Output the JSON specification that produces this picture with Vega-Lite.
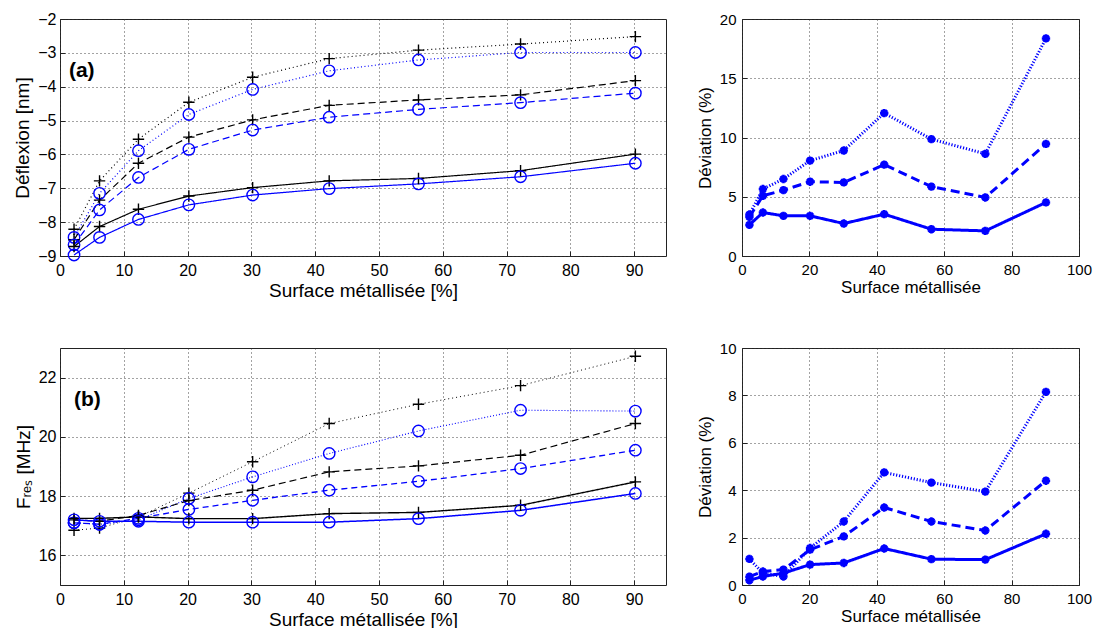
{
  "$schema": "https://vega.github.io/schema/vega-lite/v6.json",
  "background": "white",
  "padding": {"left": 13, "top": 10, "right": 0, "bottom": 0},
  "columns": 2,
  "spacing": {"row": 92, "column": 76},
  "bounds": "flush",
  "align": "each",
  "resolve": {"scale": {"color": "independent", "strokeDash": "independent", "strokeWidth": "independent", "shape": "independent"}},
  "config": {
    "font": "Liberation Sans",
    "view": {"stroke": "#222222", "strokeWidth": 1},
    "axis": {
      "grid": true, "gridDash": [1, 3], "gridColor": "#333333", "gridOpacity": 0.9, "gridWidth": 1,
      "domain": false, "ticks": true, "tickSize": -5, "tickColor": "#222222",
      "labelColor": "black", "labelFont": "Liberation Sans", "labelFontSize": 16, "labelPadding": 11,
      "titleColor": "black", "titleFont": "Liberation Sans", "titleFontSize": 19, "titleFontWeight": "normal",
      "labelOverlap": false, "labelFlush": false
    }
  },
  "datasets": {
    "a": [
      {"serie": "noir pointillé", "x": 2.2, "y": -8.21}, {"serie": "noir pointillé", "x": 6.2, "y": -6.78}, {"serie": "noir pointillé", "x": 12.3, "y": -5.55}, {"serie": "noir pointillé", "x": 20.2, "y": -4.46}, {"serie": "noir pointillé", "x": 30.2, "y": -3.72}, {"serie": "noir pointillé", "x": 42.2, "y": -3.17}, {"serie": "noir pointillé", "x": 56.2, "y": -2.92}, {"serie": "noir pointillé", "x": 72.2, "y": -2.74}, {"serie": "noir pointillé", "x": 90.2, "y": -2.52},
      {"serie": "bleu pointillé", "x": 2.2, "y": -8.45}, {"serie": "bleu pointillé", "x": 6.2, "y": -7.15}, {"serie": "bleu pointillé", "x": 12.3, "y": -5.89}, {"serie": "bleu pointillé", "x": 20.2, "y": -4.82}, {"serie": "bleu pointillé", "x": 30.2, "y": -4.08}, {"serie": "bleu pointillé", "x": 42.2, "y": -3.53}, {"serie": "bleu pointillé", "x": 56.2, "y": -3.21}, {"serie": "bleu pointillé", "x": 72.2, "y": -2.99}, {"serie": "bleu pointillé", "x": 90.2, "y": -2.99},
      {"serie": "noir tirets", "x": 2.2, "y": -8.52}, {"serie": "noir tirets", "x": 6.2, "y": -7.35}, {"serie": "noir tirets", "x": 12.3, "y": -6.26}, {"serie": "noir tirets", "x": 20.2, "y": -5.49}, {"serie": "noir tirets", "x": 30.2, "y": -4.98}, {"serie": "noir tirets", "x": 42.2, "y": -4.55}, {"serie": "noir tirets", "x": 56.2, "y": -4.39}, {"serie": "noir tirets", "x": 72.2, "y": -4.24}, {"serie": "noir tirets", "x": 90.2, "y": -3.82},
      {"serie": "bleu tirets", "x": 2.2, "y": -8.67}, {"serie": "bleu tirets", "x": 6.2, "y": -7.64}, {"serie": "bleu tirets", "x": 12.3, "y": -6.68}, {"serie": "bleu tirets", "x": 20.2, "y": -5.85}, {"serie": "bleu tirets", "x": 30.2, "y": -5.28}, {"serie": "bleu tirets", "x": 42.2, "y": -4.9}, {"serie": "bleu tirets", "x": 56.2, "y": -4.67}, {"serie": "bleu tirets", "x": 72.2, "y": -4.47}, {"serie": "bleu tirets", "x": 90.2, "y": -4.19},
      {"serie": "noir plein", "x": 2.2, "y": -8.72}, {"serie": "noir plein", "x": 6.2, "y": -8.13}, {"serie": "noir plein", "x": 12.3, "y": -7.62}, {"serie": "noir plein", "x": 20.2, "y": -7.23}, {"serie": "noir plein", "x": 30.2, "y": -6.98}, {"serie": "noir plein", "x": 42.2, "y": -6.78}, {"serie": "noir plein", "x": 56.2, "y": -6.71}, {"serie": "noir plein", "x": 72.2, "y": -6.48}, {"serie": "noir plein", "x": 90.2, "y": -5.99},
      {"serie": "bleu plein", "x": 2.2, "y": -8.97}, {"serie": "bleu plein", "x": 6.2, "y": -8.45}, {"serie": "bleu plein", "x": 12.3, "y": -7.92}, {"serie": "bleu plein", "x": 20.2, "y": -7.49}, {"serie": "bleu plein", "x": 30.2, "y": -7.2}, {"serie": "bleu plein", "x": 42.2, "y": -7.01}, {"serie": "bleu plein", "x": 56.2, "y": -6.87}, {"serie": "bleu plein", "x": 72.2, "y": -6.66}, {"serie": "bleu plein", "x": 90.2, "y": -6.26}
    ],
    "b": [
      {"serie": "noir pointillé", "x": 2.2, "y": 16.85}, {"serie": "noir pointillé", "x": 6.2, "y": 16.92}, {"serie": "noir pointillé", "x": 12.3, "y": 17.3}, {"serie": "noir pointillé", "x": 20.2, "y": 18.1}, {"serie": "noir pointillé", "x": 30.2, "y": 19.16}, {"serie": "noir pointillé", "x": 42.2, "y": 20.45}, {"serie": "noir pointillé", "x": 56.2, "y": 21.1}, {"serie": "noir pointillé", "x": 72.2, "y": 21.73}, {"serie": "noir pointillé", "x": 90.2, "y": 22.72},
      {"serie": "bleu pointillé", "x": 2.2, "y": 17.1}, {"serie": "bleu pointillé", "x": 6.2, "y": 17.05}, {"serie": "bleu pointillé", "x": 12.3, "y": 17.2}, {"serie": "bleu pointillé", "x": 20.2, "y": 17.92}, {"serie": "bleu pointillé", "x": 30.2, "y": 18.65}, {"serie": "bleu pointillé", "x": 42.2, "y": 19.44}, {"serie": "bleu pointillé", "x": 56.2, "y": 20.2}, {"serie": "bleu pointillé", "x": 72.2, "y": 20.9}, {"serie": "bleu pointillé", "x": 90.2, "y": 20.87},
      {"serie": "noir tirets", "x": 2.2, "y": 17.2}, {"serie": "noir tirets", "x": 6.2, "y": 17.15}, {"serie": "noir tirets", "x": 12.3, "y": 17.35}, {"serie": "noir tirets", "x": 20.2, "y": 17.85}, {"serie": "noir tirets", "x": 30.2, "y": 18.2}, {"serie": "noir tirets", "x": 42.2, "y": 18.82}, {"serie": "noir tirets", "x": 56.2, "y": 19.02}, {"serie": "noir tirets", "x": 72.2, "y": 19.38}, {"serie": "noir tirets", "x": 90.2, "y": 20.45},
      {"serie": "bleu tirets", "x": 2.2, "y": 17.1}, {"serie": "bleu tirets", "x": 6.2, "y": 17.05}, {"serie": "bleu tirets", "x": 12.3, "y": 17.25}, {"serie": "bleu tirets", "x": 20.2, "y": 17.55}, {"serie": "bleu tirets", "x": 30.2, "y": 17.86}, {"serie": "bleu tirets", "x": 42.2, "y": 18.2}, {"serie": "bleu tirets", "x": 56.2, "y": 18.5}, {"serie": "bleu tirets", "x": 72.2, "y": 18.93}, {"serie": "bleu tirets", "x": 90.2, "y": 19.55},
      {"serie": "noir plein", "x": 2.2, "y": 17.25}, {"serie": "noir plein", "x": 6.2, "y": 17.25}, {"serie": "noir plein", "x": 12.3, "y": 17.3}, {"serie": "noir plein", "x": 20.2, "y": 17.24}, {"serie": "noir plein", "x": 30.2, "y": 17.24}, {"serie": "noir plein", "x": 42.2, "y": 17.41}, {"serie": "noir plein", "x": 56.2, "y": 17.45}, {"serie": "noir plein", "x": 72.2, "y": 17.69}, {"serie": "noir plein", "x": 90.2, "y": 18.48},
      {"serie": "bleu plein", "x": 2.2, "y": 17.2}, {"serie": "bleu plein", "x": 6.2, "y": 17.15}, {"serie": "bleu plein", "x": 12.3, "y": 17.15}, {"serie": "bleu plein", "x": 20.2, "y": 17.12}, {"serie": "bleu plein", "x": 30.2, "y": 17.12}, {"serie": "bleu plein", "x": 42.2, "y": 17.12}, {"serie": "bleu plein", "x": 56.2, "y": 17.24}, {"serie": "bleu plein", "x": 72.2, "y": 17.52}, {"serie": "bleu plein", "x": 90.2, "y": 18.09}
    ],
    "da": [
      {"serie": "pointillé", "x": 2.2, "y": 3.5}, {"serie": "pointillé", "x": 6.2, "y": 5.65}, {"serie": "pointillé", "x": 12.3, "y": 6.5}, {"serie": "pointillé", "x": 20.2, "y": 8.05}, {"serie": "pointillé", "x": 30.2, "y": 8.9}, {"serie": "pointillé", "x": 42.2, "y": 12.06}, {"serie": "pointillé", "x": 56.2, "y": 9.86}, {"serie": "pointillé", "x": 72.2, "y": 8.62}, {"serie": "pointillé", "x": 90.2, "y": 18.36},
      {"serie": "tirets", "x": 2.2, "y": 3.3}, {"serie": "tirets", "x": 6.2, "y": 5.08}, {"serie": "tirets", "x": 12.3, "y": 5.56}, {"serie": "tirets", "x": 20.2, "y": 6.27}, {"serie": "tirets", "x": 30.2, "y": 6.21}, {"serie": "tirets", "x": 42.2, "y": 7.71}, {"serie": "tirets", "x": 56.2, "y": 5.85}, {"serie": "tirets", "x": 72.2, "y": 4.94}, {"serie": "tirets", "x": 90.2, "y": 9.46},
      {"serie": "plein", "x": 2.2, "y": 2.63}, {"serie": "plein", "x": 6.2, "y": 3.67}, {"serie": "plein", "x": 12.3, "y": 3.39}, {"serie": "plein", "x": 20.2, "y": 3.39}, {"serie": "plein", "x": 30.2, "y": 2.74}, {"serie": "plein", "x": 42.2, "y": 3.53}, {"serie": "plein", "x": 56.2, "y": 2.26}, {"serie": "plein", "x": 72.2, "y": 2.12}, {"serie": "plein", "x": 90.2, "y": 4.52}
    ],
    "db": [
      {"serie": "pointillé", "x": 2.2, "y": 1.1}, {"serie": "pointillé", "x": 6.2, "y": 0.5}, {"serie": "pointillé", "x": 12.3, "y": 0.36}, {"serie": "pointillé", "x": 20.2, "y": 1.56}, {"serie": "pointillé", "x": 30.2, "y": 2.68}, {"serie": "pointillé", "x": 42.2, "y": 4.75}, {"serie": "pointillé", "x": 56.2, "y": 4.32}, {"serie": "pointillé", "x": 72.2, "y": 3.94}, {"serie": "pointillé", "x": 90.2, "y": 8.15},
      {"serie": "tirets", "x": 2.2, "y": 0.35}, {"serie": "tirets", "x": 6.2, "y": 0.57}, {"serie": "tirets", "x": 12.3, "y": 0.65}, {"serie": "tirets", "x": 20.2, "y": 1.49}, {"serie": "tirets", "x": 30.2, "y": 2.05}, {"serie": "tirets", "x": 42.2, "y": 3.27}, {"serie": "tirets", "x": 56.2, "y": 2.68}, {"serie": "tirets", "x": 72.2, "y": 2.3}, {"serie": "tirets", "x": 90.2, "y": 4.4},
      {"serie": "plein", "x": 2.2, "y": 0.2}, {"serie": "plein", "x": 6.2, "y": 0.36}, {"serie": "plein", "x": 12.3, "y": 0.5}, {"serie": "plein", "x": 20.2, "y": 0.86}, {"serie": "plein", "x": 30.2, "y": 0.93}, {"serie": "plein", "x": 42.2, "y": 1.54}, {"serie": "plein", "x": 56.2, "y": 1.09}, {"serie": "plein", "x": 72.2, "y": 1.07}, {"serie": "plein", "x": 90.2, "y": 2.16}
    ],
    "labA": [{"label": "(a)", "x": 1.4, "y": -3.55}],
    "labB": [{"label": "(b)", "x": 2.2, "y": 21.25}]
  },
  "concat": [
    {
      "width": 606, "height": 237,
      "data": {"name": "a"},
      "encoding": {
        "x": {"field": "x", "type": "quantitative", "scale": {"domain": [0, 95], "nice": false, "zero": false}, "axis": {"values": [0, 10, 20, 30, 40, 50, 60, 70, 80, 90], "title": "Surface métallisée [%]", "titlePadding": 3}},
        "y": {"field": "y", "type": "quantitative", "scale": {"domain": [-9, -2], "nice": false, "zero": false}, "axis": {"values": [-9, -8, -7, -6, -5, -4, -3, -2], "title": "Déflexion [nm]", "titlePadding": 5, "labelPadding": 9}}
      },
      "layer": [
        {
          "mark": {"type": "line"},
          "encoding": {
            "color": {"field": "serie", "type": "nominal", "legend": null, "scale": {"domain": ["noir pointillé", "bleu pointillé", "noir tirets", "bleu tirets", "noir plein", "bleu plein"], "range": ["#000000", "#0000ff", "#000000", "#0000ff", "#000000", "#0000ff"]}},
            "strokeDash": {"field": "serie", "type": "nominal", "legend": null, "scale": {"domain": ["noir pointillé", "bleu pointillé", "noir tirets", "bleu tirets", "noir plein", "bleu plein"], "range": [[1, 3], [1, 2.5], [7, 4], [7, 4], [1, 0], [1, 0]]}},
            "strokeWidth": {"field": "serie", "type": "ordinal", "legend": null, "scale": {"domain": ["noir pointillé", "bleu pointillé", "noir tirets", "bleu tirets", "noir plein", "bleu plein"], "range": [1.2, 1.2, 1.9, 1.8, 1.8, 1.5]}}
          }
        },
        {
          "mark": {"type": "point", "filled": false, "size": 130, "strokeWidth": 1.4, "opacity": 1},
          "encoding": {
            "color": {"field": "serie", "type": "nominal", "legend": null, "scale": {"domain": ["noir pointillé", "bleu pointillé", "noir tirets", "bleu tirets", "noir plein", "bleu plein"], "range": ["#000000", "#0000ff", "#000000", "#0000ff", "#000000", "#0000ff"]}},
            "shape": {"field": "serie", "type": "nominal", "legend": null, "scale": {"domain": ["noir pointillé", "bleu pointillé", "noir tirets", "bleu tirets", "noir plein", "bleu plein"], "range": ["M-1,0H1M0,-1V1", "circle", "M-1,0H1M0,-1V1", "circle", "M-1,0H1M0,-1V1", "circle"]}}
          }
        },
        {
          "data": {"name": "labA"},
          "mark": {"type": "text", "align": "left", "baseline": "middle", "fontSize": 21, "fontWeight": "bold", "font": "Liberation Sans", "color": "black"},
          "encoding": {"text": {"field": "label", "type": "nominal"}}
        }
      ]
    },
    {
      "width": 337, "height": 237,
      "data": {"name": "da"},
      "encoding": {
        "x": {"field": "x", "type": "quantitative", "scale": {"domain": [0, 100], "nice": false}, "axis": {"values": [0, 20, 40, 60, 80, 100], "title": "Surface métallisée", "titleFontSize": 17, "labelFontSize": 15, "titlePadding": 2}},
        "y": {"field": "y", "type": "quantitative", "scale": {"domain": [0, 20], "nice": false}, "axis": {"values": [0, 5, 10, 15, 20], "title": "Déviation (%)", "titleFontSize": 17, "labelFontSize": 15, "titlePadding": 5, "labelPadding": 11}}
      },
      "layer": [
        {
          "mark": {"type": "line", "color": "#0000ff", "strokeWidth": 3},
          "encoding": {
            "strokeDash": {"field": "serie", "type": "nominal", "legend": null, "scale": {"domain": ["pointillé", "tirets", "plein"], "range": [[1.2, 1.8], [9, 5], [1, 0]]}}
          }
        },
        {
          "mark": {"type": "point", "filled": false, "color": "#0000ff", "size": 70, "strokeWidth": 2.6, "opacity": 1, "shape": "M-1,0H1M0,-1V1M-0.7,-0.7L0.7,0.7M-0.7,0.7L0.7,-0.7"},
          "encoding": {"detail": {"field": "serie", "type": "nominal"}}
        }
      ]
    },
    {
      "width": 606, "height": 237,
      "data": {"name": "b"},
      "encoding": {
        "x": {"field": "x", "type": "quantitative", "scale": {"domain": [0, 95], "nice": false, "zero": false}, "axis": {"values": [0, 10, 20, 30, 40, 50, 60, 70, 80, 90], "title": "Surface métallisée [%]", "titlePadding": 3}},
        "y": {"field": "y", "type": "quantitative", "scale": {"domain": [15, 23], "nice": false, "zero": false}, "axis": {"values": [16, 18, 20, 22], "title": "Fᵣₑₛ [MHz]", "titlePadding": 5, "labelPadding": 9}}
      },
      "layer": [
        {
          "mark": {"type": "line"},
          "encoding": {
            "color": {"field": "serie", "type": "nominal", "legend": null, "scale": {"domain": ["noir pointillé", "bleu pointillé", "noir tirets", "bleu tirets", "noir plein", "bleu plein"], "range": ["#000000", "#0000ff", "#000000", "#0000ff", "#000000", "#0000ff"]}},
            "strokeDash": {"field": "serie", "type": "nominal", "legend": null, "scale": {"domain": ["noir pointillé", "bleu pointillé", "noir tirets", "bleu tirets", "noir plein", "bleu plein"], "range": [[1, 3], [1, 2], [7, 4], [6, 4], [1, 0], [1, 0]]}},
            "strokeWidth": {"field": "serie", "type": "ordinal", "legend": null, "scale": {"domain": ["noir pointillé", "bleu pointillé", "noir tirets", "bleu tirets", "noir plein", "bleu plein"], "range": [1, 1.5, 2, 1.2, 2, 2]}}
          }
        },
        {
          "mark": {"type": "point", "filled": false, "size": 130, "strokeWidth": 1.4, "opacity": 1},
          "encoding": {
            "color": {"field": "serie", "type": "nominal", "legend": null, "scale": {"domain": ["noir pointillé", "bleu pointillé", "noir tirets", "bleu tirets", "noir plein", "bleu plein"], "range": ["#000000", "#0000ff", "#000000", "#0000ff", "#000000", "#0000ff"]}},
            "shape": {"field": "serie", "type": "nominal", "legend": null, "scale": {"domain": ["noir pointillé", "bleu pointillé", "noir tirets", "bleu tirets", "noir plein", "bleu plein"], "range": ["M-1,0H1M0,-1V1", "circle", "M-1,0H1M0,-1V1", "circle", "M-1,0H1M0,-1V1", "circle"]}}
          }
        },
        {
          "data": {"name": "labB"},
          "mark": {"type": "text", "align": "left", "baseline": "middle", "fontSize": 21, "fontWeight": "bold", "font": "Liberation Sans", "color": "black"},
          "encoding": {"text": {"field": "label", "type": "nominal"}}
        }
      ]
    },
    {
      "width": 337, "height": 237,
      "data": {"name": "db"},
      "encoding": {
        "x": {"field": "x", "type": "quantitative", "scale": {"domain": [0, 100], "nice": false}, "axis": {"values": [0, 20, 40, 60, 80, 100], "title": "Surface métallisée", "titleFontSize": 17, "labelFontSize": 15, "titlePadding": 2}},
        "y": {"field": "y", "type": "quantitative", "scale": {"domain": [0, 10], "nice": false}, "axis": {"values": [0, 2, 4, 6, 8, 10], "title": "Déviation (%)", "titleFontSize": 17, "labelFontSize": 15, "titlePadding": 5, "labelPadding": 11}}
      },
      "layer": [
        {
          "mark": {"type": "line", "color": "#0000ff", "strokeWidth": 3},
          "encoding": {
            "strokeDash": {"field": "serie", "type": "nominal", "legend": null, "scale": {"domain": ["pointillé", "tirets", "plein"], "range": [[1.2, 1.8], [9, 5], [1, 0]]}}
          }
        },
        {
          "mark": {"type": "point", "filled": false, "color": "#0000ff", "size": 70, "strokeWidth": 2.6, "opacity": 1, "shape": "M-1,0H1M0,-1V1M-0.7,-0.7L0.7,0.7M-0.7,0.7L0.7,-0.7"},
          "encoding": {"detail": {"field": "serie", "type": "nominal"}}
        }
      ]
    }
  ]
}
